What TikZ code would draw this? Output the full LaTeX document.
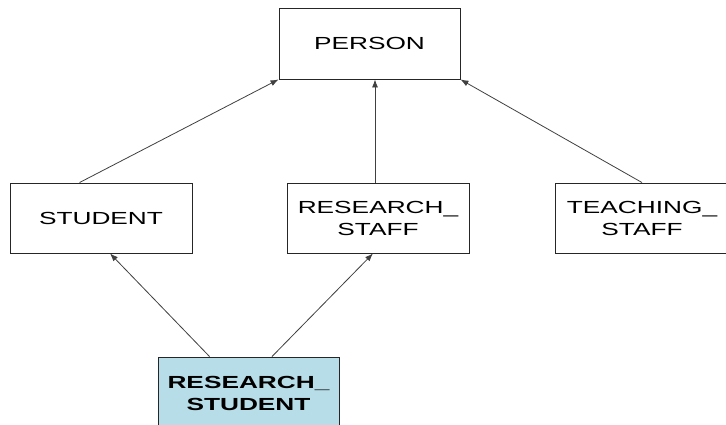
\documentclass[tikz,border=0pt]{standalone}
\usepackage{fontspec}
\newfontfamily\boxfont[FakeStretch=1.5]{Liberation Sans}
\usetikzlibrary{arrows.meta,calc}
\definecolor{aqua}{RGB}{183,222,232}
\tikzset{
  box/.style={draw=black!85, line width=0.9pt, fill=white, inner sep=0pt,
    align=center, font=\boxfont\fontsize{17.5}{22}\selectfont, text=black},
  conn/.style={draw=black!75, line width=0.8pt, -{Latex[length=8pt,width=6pt]}}
}
\begin{document}
\begin{tikzpicture}[x=1pt,y=-1pt]
\useasboundingbox (0,0) rectangle (726,425);
\fill[white] (0,0) rectangle (726,425);
\clip (0,0) rectangle (726,425);
\node[box, minimum width=181pt, minimum height=71pt] (person) at (369.5,43.5) {PERSON};
\node[box, minimum width=182pt, minimum height=70pt] (student) at (101,218) {STUDENT};
\node[box, minimum width=182pt, minimum height=70pt] (rstaff) at (378,218) {RESEARCH\_\\STAFF};
\node[box, minimum width=174pt, minimum height=70pt] (tstaff) at (642,218) {TEACHING\_\\STAFF};
\node[box, fill=aqua, minimum width=181pt, minimum height=72pt, font=\boxfont\bfseries\fontsize{17.5}{22}\selectfont] (rstudent) at (248.5,393) {RESEARCH\_\\STUDENT};
\draw[conn] ($(student.north west)+(70,0)$) -- (person.south west);
\draw[conn] ($(rstaff.north)+(-3,0)$) -- ($(person.south)+(5.5,0)$);
\draw[conn] (tstaff.north) -- (person.south east);
\draw[conn] ($(rstudent.north west)+(52,0)$) -- ($(student.south)+(9,0)$);
\draw[conn] ($(rstudent.north)+(23.5,0)$) -- ($(rstaff.south)+(-5,0)$);
\end{tikzpicture}
\end{document}
